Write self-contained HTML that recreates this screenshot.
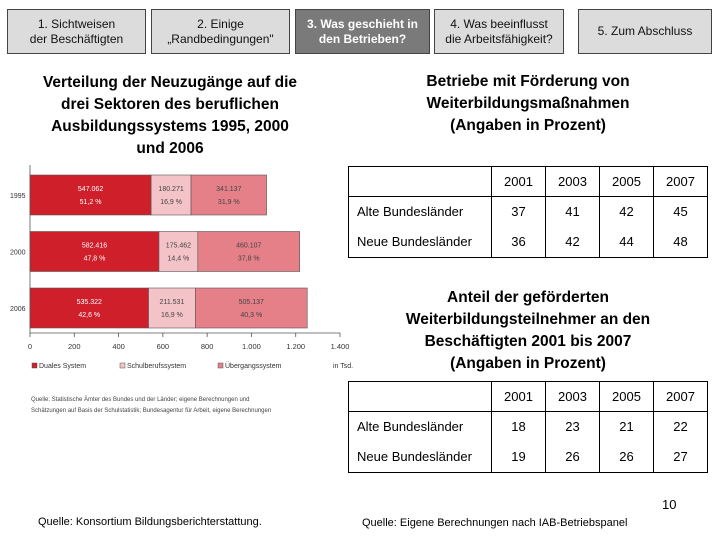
<!DOCTYPE html>
<html><head><meta charset="utf-8"><style>
body{margin:0;width:720px;height:540px;background:#fff;position:relative;overflow:hidden;font-family:"Liberation Sans",sans-serif;}
.tab{position:absolute;top:9px;height:45px;background:#dcdcdc;border:1px solid #444;box-sizing:border-box;display:flex;align-items:center;justify-content:center;text-align:center;font-size:12px;line-height:15px;color:#111;}
.tab.active{background:#7a7a7a;color:#fff;font-weight:bold;}
.title{position:absolute;text-align:center;font-weight:bold;font-size:15.5px;line-height:22px;color:#000;}
table{position:absolute;border-collapse:collapse;font-size:13px;color:#000;}
td{border-left:1px solid #000;text-align:center;padding:0;}
td:first-child{text-align:left;padding-left:8px;border-left:none;}
.src{position:absolute;font-size:11px;color:#000;}
</style></head><body>
<div class="tab" style="left:7px;width:139px">1. Sichtweisen<br>der Beschäftigten</div>
<div class="tab" style="left:151px;width:139px">2. Einige<br>„Randbedingungen"</div>
<div class="tab active" style="left:295px;width:135px">3. Was geschieht in<br>den Betrieben?</div>
<div class="tab" style="left:434px;width:130px">4. Was beeinflusst<br>die Arbeitsfähigkeit?</div>
<div class="tab" style="left:578px;width:134px">5. Zum Abschluss</div>

<div class="title" style="left:20px;top:72px;width:300px">Verteilung der Neuzugänge auf die<br>drei Sektoren des beruflichen<br>Ausbildungssystems 1995, 2000<br>und 2006</div>
<div class="title" style="left:378px;top:71px;width:300px">Betriebe mit Förderung von<br>Weiterbildungsmaßnahmen<br>(Angaben in Prozent)</div>
<div class="title" style="left:368px;top:287px;width:320px">Anteil der geförderten<br>Weiterbildungsteilnehmer an den<br>Beschäftigten 2001 bis 2007<br>(Angaben in Prozent)</div>

<svg id="chart" style="position:absolute;left:0;top:165px" width="360" height="260"></svg>

<table style="left:348px;top:166px;width:360px;height:92px;border:1px solid #000">
<tr style="height:30px;border-bottom:1px solid #000"><td style="width:134px"></td><td>2001</td><td>2003</td><td>2005</td><td>2007</td></tr>
<tr style="height:30px"><td>Alte Bundesländer</td><td>37</td><td>41</td><td>42</td><td>45</td></tr>
<tr style="height:31px"><td>Neue Bundesländer</td><td>36</td><td>42</td><td>44</td><td>48</td></tr>
</table>
<table style="left:348px;top:381px;width:360px;height:92px;border:1px solid #000">
<tr style="height:30px;border-bottom:1px solid #000"><td style="width:134px"></td><td>2001</td><td>2003</td><td>2005</td><td>2007</td></tr>
<tr style="height:30px"><td>Alte Bundesländer</td><td>18</td><td>23</td><td>21</td><td>22</td></tr>
<tr style="height:31px"><td>Neue Bundesländer</td><td>19</td><td>26</td><td>26</td><td>27</td></tr>
</table>

<div class="src" style="left:662px;top:497px;font-size:13px">10</div>
<div class="src" style="left:38px;top:516px">Quelle: Konsortium Bildungsberichterstattung.</div>
<div class="src" style="left:362px;top:517px">Quelle: Eigene Berechnungen nach IAB-Betriebspanel</div>

<script>
const years=['1995','2000','2006'];
const dual=[547.062,582.416,535.322];
const schul=[180.271,175.462,211.531];
const ueber=[341.137,460.107,505.137];
const pctDual=['51,2 %','47,8 %','42,6 %'];
const pctSchul=['16,9 %','14,4 %','16,9 %'];
const pctUeber=['31,9 %','37,8 %','40,3 %'];
const ticks=[0,200,400,600,800,1000,1200,1400];
const tickLabels=['0','200','400','600','800','1.000','1.200','1.400'];
const svg=document.getElementById('chart');
const NS='http://www.w3.org/2000/svg';
const x=v=>30+v*(310/1400);
const yTop=i=>10+i*56.5, bh=40;
function mk(t,a){const e=document.createElementNS(NS,t);for(const k in a)e.setAttribute(k,a[k]);svg.appendChild(e);return e;}
function fmt(v){return v.toFixed(3);}
const series=[[dual,'#cf1f2b',pctDual,'dual'],[schul,'#f3c3c7',pctSchul,'schul'],[ueber,'#e57f88',pctUeber,'uebergang']];
years.forEach((yr,i)=>{
  let acc=0;
  const yl=mk('text',{x:10,y:yTop(i)+bh/2+3,'font-size':7,fill:'#333'});yl.textContent=yr;
  
  
  series.forEach(([arr,col,pct,nm])=>{
    const v=arr[i];
    const r=mk('rect',{x:x(acc),y:yTop(i),width:x(acc+v)-x(acc),height:bh,fill:col,stroke:'#555','stroke-width':0.6});
    
    
    const cx=(x(acc)+x(acc+v))/2, tc=nm==='dual'?'#fff':'#444';
    const t1=mk('text',{x:cx,y:yTop(i)+16,'font-size':7,fill:tc,'text-anchor':'middle'});t1.textContent=fmt(v);
    
    
    const t2=mk('text',{x:cx,y:yTop(i)+29,'font-size':7,fill:tc,'text-anchor':'middle'});t2.textContent=pct[i];
    
    
    acc+=v;
  });
});
mk('line',{x1:30,y1:0,x2:30,y2:168,stroke:'#555','stroke-width':0.8});
mk('line',{x1:30,y1:168,x2:340,y2:168,stroke:'#555','stroke-width':0.8});
ticks.forEach((tv,k)=>{
  mk('line',{x1:x(tv),y1:168,x2:x(tv),y2:172,stroke:'#555','stroke-width':0.8});
  const t=mk('text',{x:x(tv),y:184,'font-size':7.5,fill:'#333','text-anchor':'middle'});t.textContent=tickLabels[k];
  
  
});
const u=mk('text',{x:333,y:203,'font-size':7,fill:'#333'});u.textContent='in Tsd.';
const leg=[['Duales System','#cf1f2b',32],['Schulberufssystem','#f3c3c7',120],['Übergangssystem','#e57f88',218]];
leg.forEach(([n,c,lx])=>{
  const r=mk('rect',{x:lx,y:198,width:5,height:5,fill:c,stroke:'#555','stroke-width':0.5});
  
  
  const t=mk('text',{x:lx+7,y:203,'font-size':7,fill:'#333'});t.textContent=n;
  
  
});
const s1=mk('text',{x:31,y:236,'font-size':6,fill:'#444'});s1.textContent='Quelle: Statistische Ämter des Bundes und der Länder; eigene Berechnungen und';
const s2=mk('text',{x:31,y:247,'font-size':6,fill:'#444'});s2.textContent='Schätzungen auf Basis der Schulstatistik; Bundesagentur für Arbeit, eigene Berechnungen';
</script>
</body></html>
